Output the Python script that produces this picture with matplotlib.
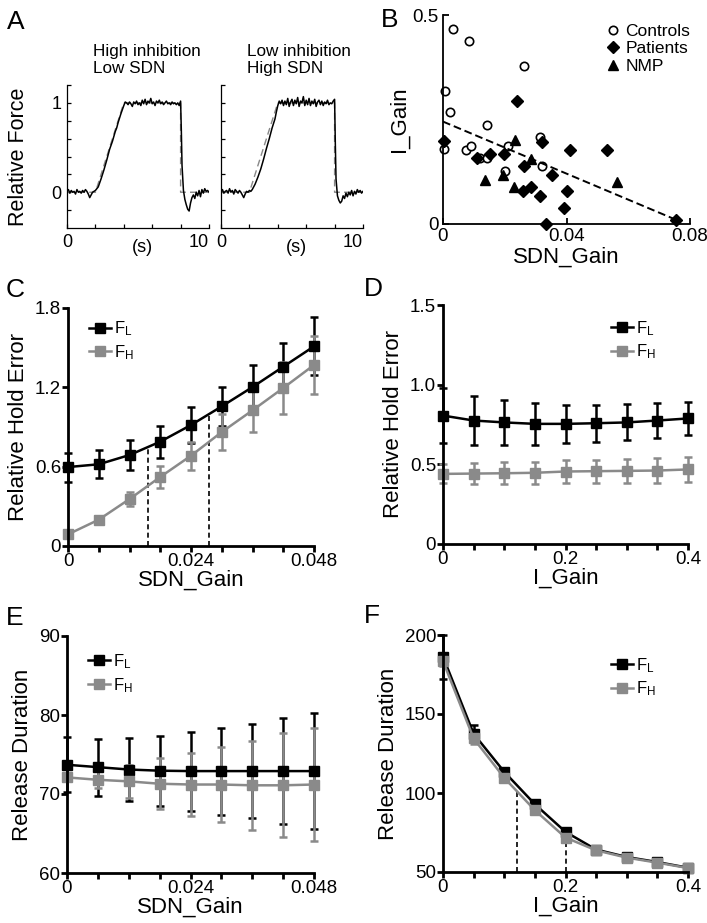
import matplotlib
matplotlib.use('Agg')
import matplotlib.pyplot as plt
from matplotlib.lines import Line2D

plt.rcParams.update({'font.family': ['Liberation Sans', 'DejaVu Sans'],
                     'mathtext.fontset': 'custom',
                     'mathtext.rm': 'Liberation Sans',
                     'mathtext.it': 'Liberation Sans:italic'})

GREY = '#8a8a8a'

# ---------------- data ----------------
# A: force traces (s, relative force)
t_hi = [0.0, 0.1, 0.2, 0.3, 0.4, 0.5, 0.6, 0.7, 0.8, 0.9, 1.0, 1.1, 1.2, 1.3, 1.4, 1.5, 1.6, 1.7, 1.8, 1.9, 2.0,
        2.2, 2.4, 2.6, 2.8, 3.0, 3.2, 3.4, 3.5, 3.6, 3.8, 4.0, 4.1,
        4.2, 4.3, 4.4, 4.5, 4.6, 4.7, 4.8, 4.9, 5.0, 5.1, 5.2, 5.3, 5.4, 5.5, 5.6, 5.7, 5.8, 5.9, 6.0,
        6.1, 6.2, 6.3, 6.4, 6.5, 6.6, 6.7, 6.8, 6.9, 7.0, 7.1, 7.2, 7.3, 7.4, 7.5, 7.6, 7.7, 7.8, 7.9, 8.0,
        8.05, 8.1, 8.2, 8.3, 8.4, 8.5, 8.6, 8.7, 8.8, 8.9, 9.0, 9.1, 9.2, 9.3, 9.4, 9.5, 9.6, 9.7, 9.8, 9.9, 10.0]
f_hi = [0.01, 0.03, -0.01, 0.02, 0.00, 0.01, -0.02, 0.03, 0.00, 0.01, -0.01, 0.02, 0.00, 0.03, 0.01, -0.02, -0.06, -0.03, 0.00, 0.01, 0.02,
        0.06, 0.15, 0.25, 0.36, 0.48, 0.57, 0.68, 0.72, 0.78, 0.88, 0.97, 1.01,
        1.00, 0.98, 1.01, 0.99, 0.96, 1.01, 0.99, 1.02, 0.98, 1.00, 0.97, 1.03, 0.99, 1.04, 0.98, 1.02, 1.00, 1.05, 0.99,
        1.01, 0.97, 1.02, 1.00, 1.03, 0.99, 1.01, 0.98, 1.00, 1.02, 0.99, 1.00, 0.98, 1.01, 0.99, 1.00, 0.98, 1.00, 0.97, 1.02,
        0.70, 0.30, 0.02, -0.08, -0.14, -0.19, -0.21, -0.12, -0.06, -0.03, -0.07, 0.00, -0.04, 0.02, -0.05, 0.03, -0.01, 0.04, 0.01, 0.02, 0.00]
t_lo = [0.0, 0.1, 0.2, 0.3, 0.4, 0.5, 0.6, 0.7, 0.8, 0.9, 1.0, 1.1, 1.2, 1.3, 1.4, 1.5, 1.6, 1.7, 1.8, 1.9, 2.0, 2.1,
        2.2, 2.4, 2.6, 2.8, 3.0, 3.2, 3.4, 3.6, 3.8, 3.9, 4.0, 4.1,
        4.2, 4.3, 4.4, 4.5, 4.6, 4.7, 4.8, 4.9, 5.0, 5.1, 5.2, 5.3, 5.4, 5.5, 5.6, 5.7, 5.8, 5.9, 6.0,
        6.1, 6.2, 6.3, 6.4, 6.5, 6.6, 6.7, 6.8, 6.9, 7.0, 7.1, 7.2, 7.3, 7.4, 7.5, 7.6, 7.7, 7.8, 7.9, 8.0,
        8.05, 8.1, 8.2, 8.3, 8.4, 8.5, 8.6, 8.7, 8.8, 8.9, 9.0, 9.1, 9.2, 9.3, 9.4, 9.5, 9.6, 9.7, 9.8, 9.9, 10.0]
f_lo = [0.00, 0.03, -0.01, 0.01, 0.02, -0.01, 0.04, 0.00, 0.02, -0.02, 0.03, 0.01, -0.01, 0.02, 0.00, -0.03, -0.06, -0.02, 0.01, 0.00, 0.02, 0.01,
        0.03, 0.09, 0.17, 0.26, 0.37, 0.49, 0.60, 0.72, 0.82, 0.90, 0.97, 1.02,
        0.99, 1.03, 0.97, 1.02, 0.98, 1.05, 0.96, 1.01, 1.04, 0.97, 1.03, 0.99, 1.06, 0.96, 1.02, 1.00, 1.07, 0.97, 1.03,
        0.98, 1.05, 0.97, 1.02, 0.99, 1.04, 0.96, 1.01, 1.03, 0.98, 1.02, 0.97, 1.01, 0.99, 1.03, 0.98, 1.00, 0.99, 1.02, 1.04,
        0.55, 0.15, -0.04, -0.09, -0.12, -0.10, -0.04, -0.07, -0.01, -0.05, 0.00, -0.03, 0.02, -0.04, 0.01, -0.02, 0.03, 0.00, 0.02, -0.01, 0.01]
t_target = [0, 2, 4, 8, 8, 10]
f_target = [0, 0, 1, 1, 0, 0]

# B: gains per subject
ctrl_sdn = [0.0032, 0.0084, 0.0261, 0.0005, 0.0024, 0.0141, 0.0313, 0.0004, 0.0073, 0.0092, 0.0212, 0.0121, 0.0142, 0.0202, 0.0321]
ctrl_ig = [0.466, 0.437, 0.378, 0.318, 0.267, 0.237, 0.207, 0.179, 0.178, 0.187, 0.187, 0.158, 0.158, 0.127, 0.138]
pat_sdn = [0.0239, 0.0004, 0.0321, 0.0412, 0.0532, 0.0110, 0.0153, 0.0199, 0.0261, 0.0353, 0.0259, 0.0285, 0.0313, 0.0403, 0.0392, 0.0333, 0.0755]
pat_ig = [0.295, 0.198, 0.197, 0.178, 0.178, 0.158, 0.168, 0.167, 0.139, 0.118, 0.078, 0.088, 0.068, 0.080, 0.039, 0.0, 0.009]
nmp_sdn = [0.0234, 0.0285, 0.0135, 0.0193, 0.0231, 0.0563]
nmp_ig = [0.200, 0.156, 0.106, 0.118, 0.088, 0.100]
fit_x = [0.0, 0.0768]
fit_y = [0.245, 0.006]

# C / E: SDN_Gain sweep
sdn = [0.0, 0.006, 0.012, 0.018, 0.024, 0.030, 0.036, 0.042, 0.048]
hold_sdn_L = [0.597, 0.618, 0.688, 0.789, 0.915, 1.056, 1.202, 1.356, 1.510]
hold_sdn_L_err = [0.11, 0.105, 0.11, 0.12, 0.135, 0.15, 0.168, 0.18, 0.22]
hold_sdn_H = [0.088, 0.199, 0.355, 0.522, 0.683, 0.862, 1.026, 1.195, 1.369]
hold_sdn_H_err = [0.01, 0.015, 0.055, 0.085, 0.105, 0.135, 0.165, 0.195, 0.22]
c_vlines_x = [0.0157, 0.0275]
c_vlines_top = [0.735, 1.005]

rel_sdn_L = [73.7, 73.4, 73.1, 72.95, 72.9, 72.9, 72.9, 72.9, 72.9]
rel_sdn_L_err = [3.5, 3.6, 4.0, 4.45, 5.0, 5.5, 6.0, 6.7, 7.3]
rel_sdn_H = [72.1, 71.8, 71.6, 71.3, 71.2, 71.2, 71.1, 71.1, 71.2]
rel_sdn_H_err = [0.5, 1.1, 2.1, 3.2, 4.0, 4.8, 5.6, 6.6, 7.2]

# D / F: I_Gain sweep
ig = [0.0, 0.05, 0.1, 0.15, 0.2, 0.25, 0.3, 0.35, 0.4]
hold_ig_L = [0.806, 0.775, 0.763, 0.754, 0.754, 0.758, 0.763, 0.775, 0.788]
hold_ig_L_err = [0.17, 0.155, 0.14, 0.13, 0.12, 0.117, 0.113, 0.107, 0.105]
hold_ig_H = [0.440, 0.442, 0.444, 0.447, 0.455, 0.457, 0.459, 0.461, 0.468]
hold_ig_H_err = [0.06, 0.065, 0.068, 0.07, 0.07, 0.073, 0.075, 0.078, 0.08]

rel_ig_L = [186.3, 137.5, 113.4, 92.9, 75.4, 64.2, 59.5, 56.3, 52.7]
rel_ig_L_err = [14.0, 5.5, 2.5, 2.0, 2.0, 1.2, 1.0, 1.0, 1.0]
rel_ig_H = [183.5, 134.5, 109.6, 89.1, 71.8, 63.7, 59.1, 55.9, 52.5]
rel_ig_H_err = [3.0, 3.5, 2.0, 1.5, 1.5, 1.0, 1.0, 1.0, 1.0]
f_vlines_x = [0.12, 0.20]
f_vlines_top = [102.5, 74.0]

W, H = 707, 923
fig = plt.figure(figsize=(W / 100, H / 100), dpi=100)


def rect(x0, y0, x1, y1):
    return [x0 / W, 1 - y1 / H, (x1 - x0) / W, (y1 - y0) / H]


def style(ax, lw=2.0, direction='out', length=4):
    for s in ['top', 'right']:
        ax.spines[s].set_visible(False)
    for s in ['left', 'bottom']:
        ax.spines[s].set_linewidth(lw)
    ax.tick_params(direction=direction, length=length, width=lw, labelsize=13.5, pad=1)


def sweep(ax, x, yl, el, yh, eh, anchor):
    handles = []
    for y, e, c, lab in [(yl, el, 'black', r'F$_{\mathrm{L}}$'), (yh, eh, GREY, r'F$_{\mathrm{H}}$')]:
        cont = ax.errorbar(x, y, yerr=e, color=c, marker='s', ms=6.5, lw=1.8,
                           elinewidth=1.8, capsize=3, capthick=1.8)
        for art in cont.get_children():
            art.set_clip_on(False)
        handles.append(Line2D([], [], color=c, marker='s', ms=6.5, lw=1.8, label=lab))
    ax.legend(handles=handles, loc='upper left', bbox_to_anchor=anchor, frameon=False, fontsize=12,
              handlelength=1.3, handletextpad=0.2, labelspacing=0.3, borderaxespad=0)


# ---- A ----
for i, (tt, ff, title) in enumerate([(t_hi, f_hi, 'High inhibition\nLow SDN'),
                                     (t_lo, f_lo, 'Low inhibition\nHigh SDN')]):
    x0 = 67 if i == 0 else 221
    ax = fig.add_axes(rect(x0, 85, x0 + 142, 228))
    ax.plot(t_target, f_target, color='#888888', lw=1.0, ls=(0, (5, 3)))
    ax.plot(tt, ff, color='black', lw=1.1)
    ax.set_xlim(0, 10)
    ax.set_ylim(-0.4, 1.2)
    style(ax, lw=0.9, direction='in', length=3)
    ax.set_xticks([0, 2, 4, 6, 8, 10])
    ax.set_xticklabels(['0', '', '', '', '', '10'])
    ax.get_xticklabels()[-1].set_ha('right')
    ax.set_yticks([-0.2, 0, 0.2, 0.4, 0.6, 0.8, 1.0, 1.2])
    ax.set_yticklabels(['', '0', '', '', '', '', '1', ''] if i == 0 else [''] * 8)
    ax.tick_params(labelsize=13, pad=4)
    ax.text(5.3, -0.52, '(s)', ha='center', va='top', fontsize=13)
    ax.text(0.18, 1.29, title, transform=ax.transAxes,
            ha='left', va='top', fontsize=12.3, linespacing=1.2)
    if i == 0:
        ax.set_ylabel('Relative Force', fontsize=15.5, labelpad=16)

# ---- B ----
ax = fig.add_axes(rect(443, 15, 690, 224))
ax.plot(ctrl_sdn, ctrl_ig, 'o', mfc='white', mec='black', mew=1.2, ms=6, clip_on=False, label='Controls')
ax.plot(pat_sdn, pat_ig, 'D', color='black', ms=6, clip_on=False, label='Patients')
ax.plot(nmp_sdn, nmp_ig, '^', color='black', ms=7, clip_on=False, label='NMP')
ax.plot(fit_x, fit_y, color='black', lw=1.4, ls=(0, (4, 2)))
ax.set_xlim(0, 0.08)
ax.set_ylim(0, 0.5)
style(ax, lw=1.3, direction='in', length=4)
ax.set_xticks([0, 0.04, 0.08])
ax.set_xticklabels(['0', '0.04', '0.08'])
ax.set_yticks([0, 0.5])
ax.set_yticklabels(['0', '0.5'])
ax.tick_params(pad=3)
ax.set_xlabel('SDN_Gain', fontsize=16, labelpad=1)
ax.set_ylabel('I_Gain', fontsize=16, labelpad=2)
ax.legend(loc='upper right', bbox_to_anchor=(1.03, 0.99), frameon=False, fontsize=12.5,
          handlelength=0.8, handletextpad=0.3, labelspacing=0.12, borderaxespad=0)

# ---- C ----
ax = fig.add_axes(rect(68, 308, 314, 546))
sweep(ax, sdn, hold_sdn_L, hold_sdn_L_err, hold_sdn_H, hold_sdn_H_err, (0.06, 0.98))
ax.vlines(c_vlines_x, 0, c_vlines_top, colors='black', lw=1.2, linestyles=(0, (3, 2)))
ax.set_xlim(0, 0.048)
ax.set_ylim(0, 1.8)
style(ax)
ax.set_xticks(sdn)
ax.set_xticklabels(['0', '', '', '', '0.024', '', '', '', '0.048'])
ax.set_yticks([0, 0.6, 1.2, 1.8])
ax.set_yticklabels(['0', '0.6', '1.2', '1.8'])
ax.set_xlabel('SDN_Gain', fontsize=16, labelpad=0)
ax.set_ylabel('Relative Hold Error', fontsize=16, labelpad=4)

# ---- D ----
ax = fig.add_axes(rect(443, 305, 688, 544))
sweep(ax, ig, hold_ig_L, hold_ig_L_err, hold_ig_H, hold_ig_H_err, (0.66, 0.97))
ax.set_xlim(0, 0.4)
ax.set_ylim(0, 1.5)
style(ax)
ax.set_xticks(ig)
ax.set_xticklabels(['0', '', '', '', '0.2', '', '', '', '0.4'])
ax.set_yticks([0, 0.5, 1.0, 1.5])
ax.set_yticklabels(['0', '0.5', '1.0', '1.5'])
ax.set_xlabel('I_Gain', fontsize=16, labelpad=0)
ax.set_ylabel('Relative Hold Error', fontsize=16, labelpad=4)

# ---- E ----
ax = fig.add_axes(rect(67, 636, 314, 873))
sweep(ax, sdn, rel_sdn_L, rel_sdn_L_err, rel_sdn_H, rel_sdn_H_err, (0.06, 0.96))
ax.set_xlim(0, 0.048)
ax.set_ylim(60, 90)
style(ax)
ax.set_xticks(sdn)
ax.set_xticklabels(['0', '', '', '', '0.024', '', '', '', '0.048'])
ax.set_yticks([60, 70, 80, 90])
ax.set_xlabel('SDN_Gain', fontsize=16, labelpad=0)
ax.set_ylabel('Release Duration', fontsize=16, labelpad=4)

# ---- F ----
ax = fig.add_axes(rect(443, 635, 688, 872))
sweep(ax, ig, rel_ig_L, rel_ig_L_err, rel_ig_H, rel_ig_H_err, (0.66, 0.94))
ax.vlines(f_vlines_x, 50, f_vlines_top, colors='black', lw=1.2, linestyles=(0, (3, 2)))
ax.set_xlim(0, 0.4)
ax.set_ylim(50, 200)
style(ax)
ax.set_xticks(ig)
ax.set_xticklabels(['0', '', '', '', '0.2', '', '', '', '0.4'])
ax.set_yticks([50, 100, 150, 200])
ax.set_xlabel('I_Gain', fontsize=16, labelpad=0)
ax.set_ylabel('Release Duration', fontsize=16, labelpad=4)

# panel letters
for lab, px, py in [('A', 7, 22), ('B', 381, 20), ('C', 6, 290), ('D', 364, 289), ('E', 6, 618), ('F', 364, 616)]:
    fig.text(px / W, 1 - py / H, lab, fontsize=19, ha='left', va='center')

fig.savefig('out.png', dpi=100, facecolor='white')
